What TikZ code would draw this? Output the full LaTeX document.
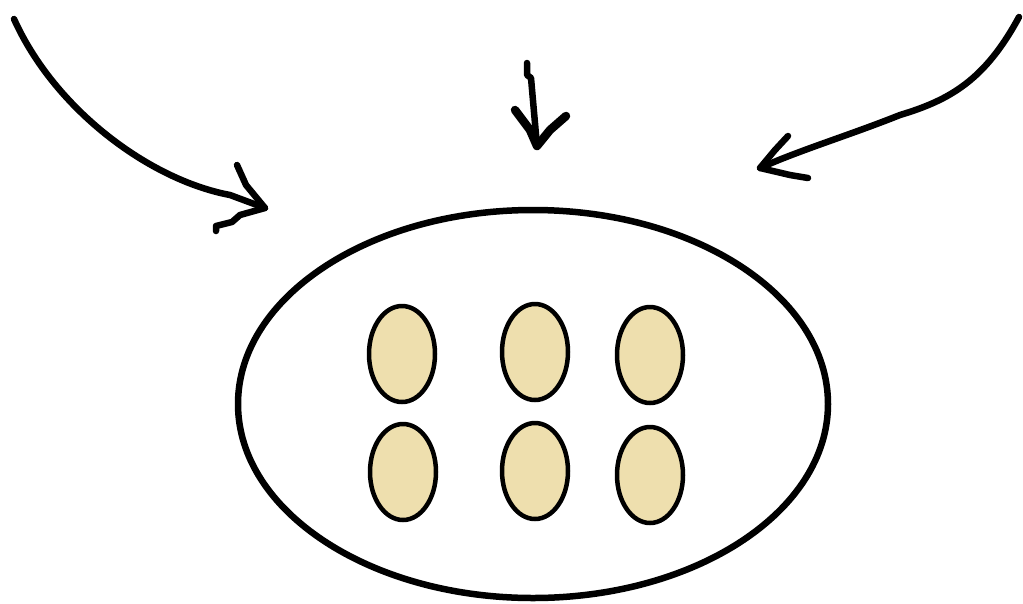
\documentclass[tikz,border=0pt]{standalone}
\usetikzlibrary{shapes.geometric}
\definecolor{seed}{HTML}{EEDFAE}
\tikzset{
  outer/.style={ellipse, draw=black, line width=6.5pt, minimum width=590pt, minimum height=388pt, inner sep=0pt},
  cell/.style={ellipse, draw=black, fill=seed, line width=4.5pt, minimum width=66pt, minimum height=96pt, inner sep=0pt},
  stroke/.style={line width=6.5pt, line cap=round, line join=round},
}
\begin{document}
\begin{tikzpicture}[x=1pt,y=-1pt]
\useasboundingbox (0,0) rectangle (1023,603);
\node[outer] (big) at (533,404) {};
\node[cell] (c1) at (402,354) {};
\node[cell] (c2) at (535,352) {};
\node[cell] (c3) at (650,355) {};
\node[cell] (c4) at (403,472) {};
\node[cell] (c5) at (535,471) {};
\node[cell] (c6) at (650,475) {};
% left arrow
\coordinate (ls) at (14,19);
\coordinate (lt) at (265,208);
\draw[stroke] (ls) .. controls (55,110) and (150,180) .. (230,195) -- (lt);
\draw[stroke] (237,165) -- (246,185) -- (lt) -- (240,215) -- (232,222) -- (216,226) -- (216,231);
% middle arrow
\coordinate (ms) at (527,63);
\coordinate (mt) at (537,146);
\draw[stroke] (ms) -- (527,75) -- (531,78) -- (mt);
\draw[stroke, line width=8.5pt] (515,110) -- (530,130) -- (mt) -- (550,130) -- (566,116);
% right arrow
\coordinate (rs) at (1019,17);
\coordinate (rt) at (760,168);
\draw[stroke] (rs) .. controls (985,80) and (950,100) .. (900,115) .. controls (850,135) and (800,150) .. (rt);
\draw[stroke] (788,136) -- (775,150) -- (rt) -- (790,175) -- (808,178);
\end{tikzpicture}
\end{document}
